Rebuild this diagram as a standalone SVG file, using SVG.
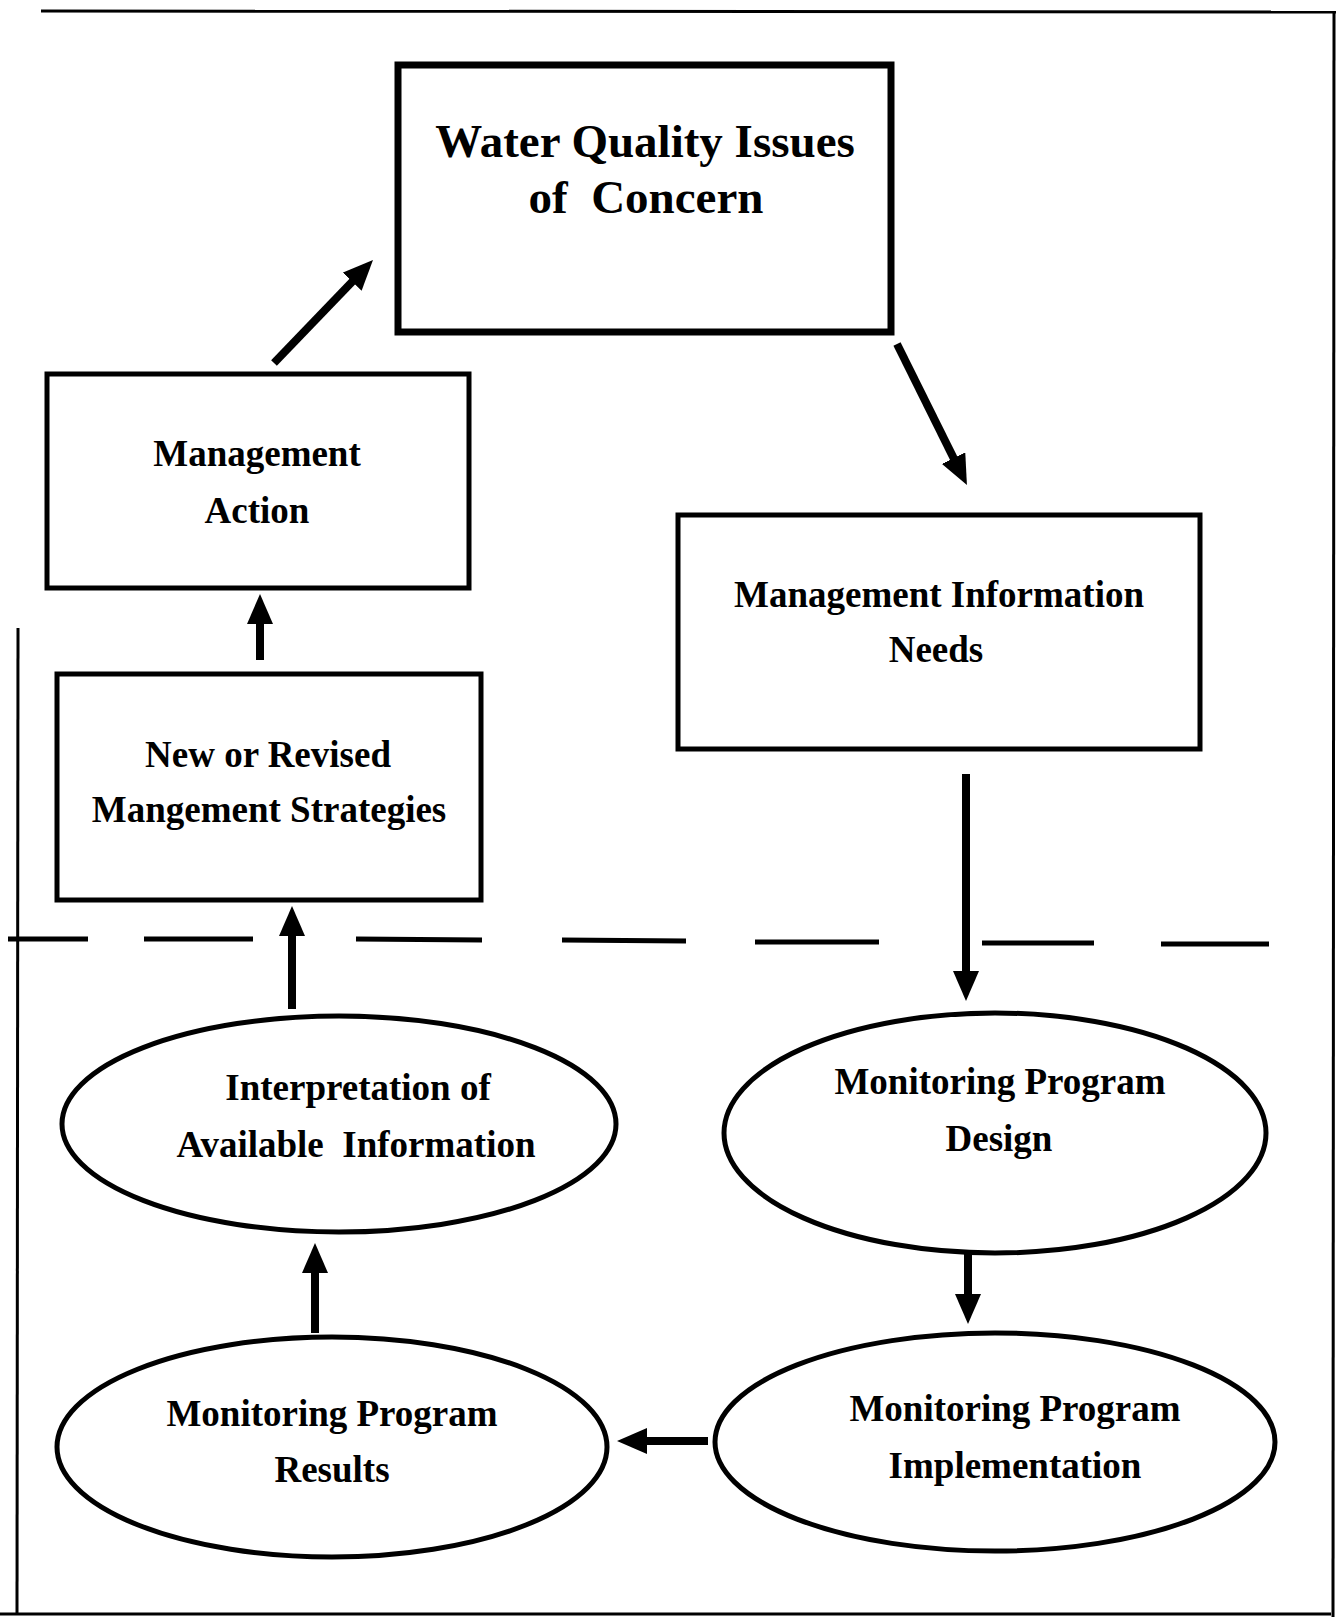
<svg xmlns="http://www.w3.org/2000/svg" width="1339" height="1617" viewBox="0 0 1339 1617">
<style>
.box{fill:#fff;stroke:#000;stroke-width:5}
.box-thick{fill:#fff;stroke:#000;stroke-width:7}
.ell{fill:#fff;stroke:#000;stroke-width:5}
.lbl{font-family:"Liberation Serif","Times New Roman",serif;font-weight:bold;font-size:37px;fill:#000;text-anchor:middle}
.big{font-size:47px}
.frame{stroke:#000;stroke-width:3;fill:none}
.dash{stroke:#000;stroke-width:5;fill:none}
.arrow{stroke:#000;stroke-width:8;fill:none;marker-end:url(#ah)}
</style>
<defs>
<marker id="ah" markerUnits="userSpaceOnUse" markerWidth="32" markerHeight="26" refX="2" refY="13" orient="auto">
<path d="M0,0 L30,13 L0,26 z" fill="#000"/>
</marker>
</defs>
<rect width="1339" height="1617" fill="#fff"/>
<g id="frame">
<line class="frame" x1="41" y1="11" x2="1336" y2="12"/>
<line class="frame" x1="1334" y1="11" x2="1333" y2="1617"/>
<line class="frame" x1="18" y1="628" x2="17" y2="1615"/>
<line class="frame" x1="0" y1="1614" x2="1331" y2="1614"/>
</g>
<g id="divider">
<path class="dash" d="M8,939 L88,939 M144,939 L253,939 M356,939 L482,940 M562,940 L686,941 M755,942 L879,942 M982,943 L1094,943 M1161,944 L1269,944"/>
</g>
<g id="connectors">
<line class="arrow" x1="274" y1="363" x2="353.6" y2="280.2"/>
<line class="arrow" x1="897" y1="344" x2="954.5" y2="459.9"/>
<line class="arrow" x1="966" y1="774" x2="966" y2="973"/>
<line class="arrow" x1="968" y1="1246" x2="968" y2="1296"/>
<line class="arrow" x1="708" y1="1441" x2="645" y2="1441"/>
<line class="arrow" x1="315" y1="1333" x2="315" y2="1271"/>
<line class="arrow" x1="292" y1="1009" x2="292" y2="934"/>
<line class="arrow" x1="260" y1="660" x2="260" y2="622"/>
</g>
<g id="water-quality">
<rect class="box-thick" x="398" y="65" width="493" height="267"/>
<text class="lbl big" x="645" y="157">Water Quality Issues</text>
<text class="lbl big" x="646" y="213" xml:space="preserve">of  Concern</text>
</g>
<g id="management-action">
<rect class="box" x="47" y="374" width="422" height="214"/>
<text class="lbl" x="257" y="466">Management</text>
<text class="lbl" x="257" y="523">Action</text>
</g>
<g id="management-info-needs">
<rect class="box" x="678" y="515" width="522" height="234"/>
<text class="lbl" x="939" y="607">Management Information</text>
<text class="lbl" x="936" y="662">Needs</text>
</g>
<g id="new-strategies">
<rect class="box" x="57" y="674" width="424" height="226"/>
<text class="lbl" x="268" y="767">New or Revised</text>
<text class="lbl" x="269" y="822">Mangement Strategies</text>
</g>
<g id="interpretation">
<ellipse class="ell" cx="339" cy="1124" rx="277" ry="108"/>
<text class="lbl" x="358" y="1100">Interpretation of</text>
<text class="lbl" x="356" y="1157" xml:space="preserve">Available  Information</text>
</g>
<g id="design">
<ellipse class="ell" cx="995" cy="1133" rx="271" ry="120"/>
<text class="lbl" x="1000" y="1094">Monitoring Program</text>
<text class="lbl" x="999" y="1151">Design</text>
</g>
<g id="implementation">
<ellipse class="ell" cx="995" cy="1442" rx="280" ry="109"/>
<text class="lbl" x="1015" y="1421">Monitoring Program</text>
<text class="lbl" x="1015" y="1478">Implementation</text>
</g>
<g id="results">
<ellipse class="ell" cx="332" cy="1447" rx="275" ry="110"/>
<text class="lbl" x="332" y="1426">Monitoring Program</text>
<text class="lbl" x="332" y="1482">Results</text>
</g>
</svg>
